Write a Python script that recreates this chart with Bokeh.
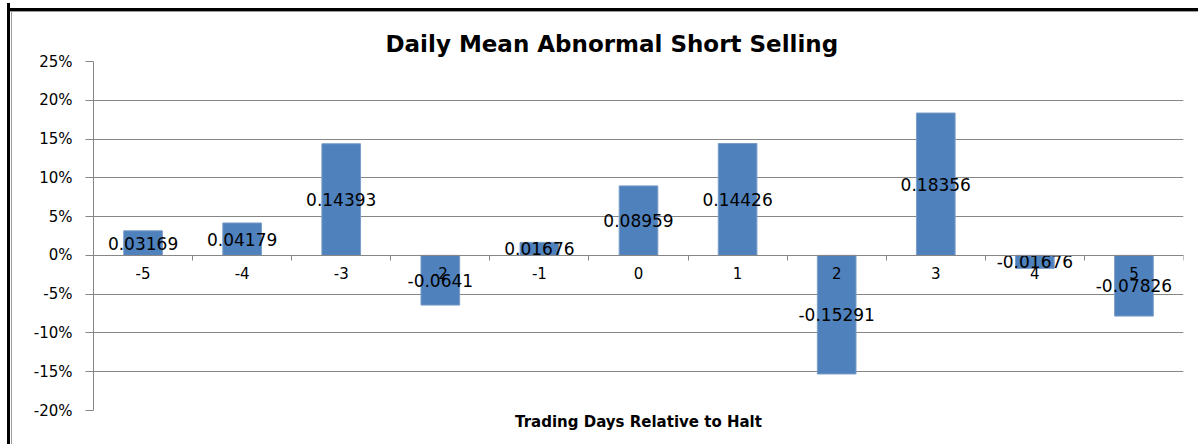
from bokeh.plotting import figure
from bokeh.models import (FixedTicker, NumeralTickFormatter, Title, LinearAxis,
                          Range1d, ColumnDataSource, CustomJSTickFormatter)
from bokeh.embed import file_html
from bokeh.resources import INLINE
from bokeh.core.properties import value

days = [-5, -4, -3, -2, -1, 0, 1, 2, 3, 4, 5]
abnormal = [0.03169, 0.04179, 0.14393, -0.0641, 0.01676, 0.08959,
            0.14426, -0.15291, 0.18356, -0.01676, -0.07826]
y_ticks = [-0.20, -0.15, -0.10, -0.05, 0.0, 0.05, 0.10, 0.15, 0.20, 0.25]
title_text = "Daily Mean Abnormal Short Selling"
x_title = "Trading Days Relative to Halt"

GRID = "#868686"
BAR = "#4F81BD"
FONT = "DejaVu Sans"

src = ColumnDataSource(dict(
    x=days,
    top=abnormal,
    mid=[v / 2 for v in abnormal],
    label=[str(v) for v in abnormal],
))

p = figure(width=1191, height=441,
           x_range=Range1d(days[0] - 0.5, days[-1] + 0.5),
           y_range=Range1d(y_ticks[0], y_ticks[-1]),
           output_backend="svg", toolbar_location=None,
           x_axis_location=None,
           min_border_left=81, min_border_right=20,
           min_border_top=58, min_border_bottom=34)
p.styles = {
    "border-left": "3px solid black",
    "padding-left": "2px",
    "margin-left": "7px", "margin-top": "3px",
    "background-color": "white",
    "background-image": ("linear-gradient(black, black), "
                         "linear-gradient(#9a9a9a, #9a9a9a), "
                         "linear-gradient(#9a9a9a, #9a9a9a)"),
    "background-position": "0 5px, 0 8px, 1px 8px",
    "background-size": "100% 3px, 100% 1px, 1px 100%",
    "background-repeat": "no-repeat",
}
p.outline_line_color = None
p.background_fill_color = "white"
p.border_fill_color = None

# title
p.title.text = title_text
p.title.align = "left"
p.title.offset = 292
p.title.text_font = FONT
p.title.text_font_size = "23px"
p.title.text_font_style = "bold"
p.title.text_color = "black"
p.title.standoff = 10

# y axis
yt = FixedTicker(ticks=y_ticks)
p.yaxis.ticker = yt
p.yaxis.formatter = NumeralTickFormatter(format="0%")
p.yaxis.axis_line_color = GRID
p.yaxis.major_tick_line_color = GRID
p.yaxis.major_tick_out = 8
p.yaxis.major_tick_in = 0
p.yaxis.minor_tick_line_color = None
p.yaxis.major_label_text_font = FONT
p.yaxis.major_label_text_font_size = "15px"
p.yaxis.major_label_text_color = "black"
p.yaxis.major_label_standoff = 13

p.ygrid.ticker = yt
p.ygrid.grid_line_color = GRID
p.xgrid.visible = False

# bars
p.vbar(x="x", top="top", bottom=0, width=0.39, source=src,
       fill_color=BAR, line_color="#7A9CC8", line_width=1)

# x axis at zero
bounds = [days[0] - 0.5] + [d + 0.5 for d in days]
xa = LinearAxis(fixed_location=0,
                ticker=FixedTicker(ticks=days, minor_ticks=bounds),
                formatter=CustomJSTickFormatter(code="return String(tick)"))
xa.axis_line_color = GRID
xa.major_tick_line_color = None
xa.minor_tick_line_color = GRID
xa.minor_tick_in = 0
xa.minor_tick_out = 5
xa.major_label_text_font = FONT
xa.major_label_text_font_size = "15px"
xa.major_label_text_color = "black"
xa.major_label_standoff = 6
p.add_layout(xa, "below")

p.add_layout(Title(text=x_title, align="center", text_font=FONT,
                   text_font_size="15px", text_font_style="bold",
                   text_color="black", standoff=1), "below")

# data labels
p.text(x="x", y="mid", text="label", source=src,
       text_align="center", text_baseline="middle",
       text_font=value(FONT), text_font_size="17px", text_color="black")

open("out.html", "w").write(file_html(p, INLINE))
